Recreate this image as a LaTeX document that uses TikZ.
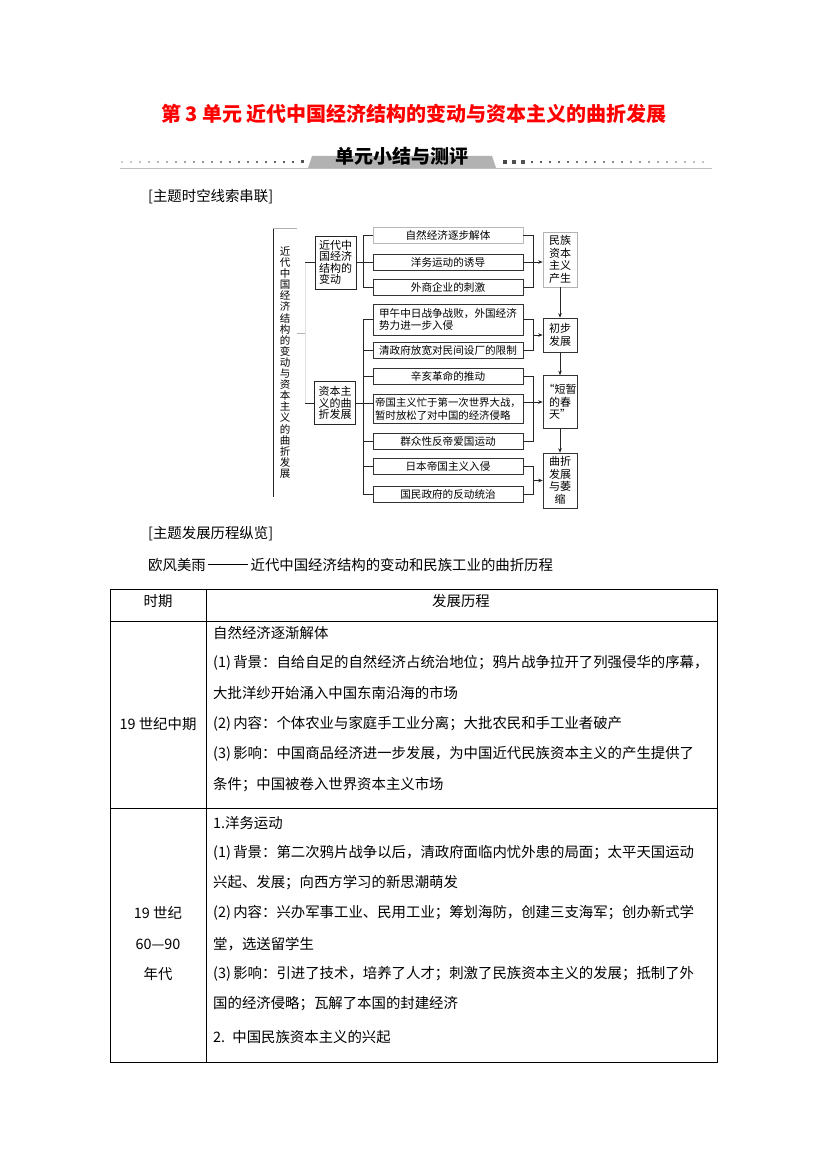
\documentclass[tikz,border=0pt]{standalone}
\usepackage{fontspec}
\setmainfont{Noto Sans CJK SC}
\usetikzlibrary{arrows.meta}
\begin{document}
\begin{tikzpicture}[x=1pt,y=-1pt,
  conn/.style={line width=0.6pt, draw=black!85},
  arr/.style={conn, -{Stealth[length=4.5pt,width=3.5pt]}},
  itembox/.style={draw=black!80, line width=0.6pt, minimum width=150pt, minimum height=16pt, inner sep=0pt, font=\fontsize{10.6}{12.5}\selectfont, align=center},
  sidebox/.style={draw=black!80, line width=0.6pt, minimum width=34pt, inner sep=0pt, font=\fontsize{11}{12.5}\selectfont, align=center},
  groupbox/.style={draw=black!85, line width=0.7pt, minimum width=41pt, inner sep=0pt, font=\fontsize{11}{11.5}\selectfont, align=left},
  body/.style={anchor=west, inner sep=0pt, font=\fontsize{14.4}{17}\selectfont},
  bodyc/.style={body, anchor=center},
  tline/.style={line width=0.8pt, draw=black}
]
\useasboundingbox (0,0) rectangle (826,1169);

% ---------- title ----------
\node[font=\fontsize{20}{24}\selectfont\bfseries, text=red, inner sep=0pt] (title) at (414,114) {第 3 单元 近代中国经济结构的变动与资本主义的曲折发展};

% ---------- banner ----------
\foreach \i in {0,...,20} {
  \pgfmathsetmacro\xx{122+9*\i}
  \pgfmathtruncatemacro\cc{20+2.4*\i}
  \pgfmathsetmacro\ss{0.7+0.04*\i}
  \fill[black!\cc] (\xx-\ss,162-\ss) rectangle (\xx+\ss,162+\ss);
}
\foreach \i in {0,...,22} {
  \pgfmathsetmacro\xx{505+9*\i}
  \pgfmathtruncatemacro\cc{72-2.2*\i}
  \pgfmathsetmacro\ss{1.6-0.04*\i}
  \fill[black!\cc] (\xx-\ss,162-\ss) rectangle (\xx+\ss,162+\ss);
}
\fill[black!30] (308,168) -- (312,156) -- (492,156) -- (496,168) -- cycle;
\draw[black!25, line width=1.6pt] (120,168.5) -- (712,168.5);
\node[font=\fontsize{19}{22}\selectfont\bfseries, inner sep=0pt] (banner) at (402,156) {单元小结与测评};

% ---------- heading 1 ----------
\node[body] (h1) at (148,197) {[主题时空线索串联]};

% ---------- diagram ----------
\node[inner sep=0pt, minimum width=24pt, minimum height=269pt, align=center, font=\fontsize{10.5}{11.1}\selectfont] (t0) at (285,362.5)
 {近\\代\\中\\国\\经\\济\\结\\构\\的\\变\\动\\与\\资\\本\\主\\义\\的\\曲\\折\\发\\展};

\node[groupbox, minimum height=53pt] (n1) at (335.5,262.5) {近代中\\国经济\\结构的\\变动};
\node[groupbox, minimum height=43pt] (n2) at (335,403) {资本主\\义的曲\\折发展};

\node[itembox, draw=gray!55] (i1) at (448,235.5) {自然经济逐步解体};
\node[itembox] (i2) at (448,262) {洋务运动的诱导};
\node[itembox] (i3) at (448,287) {外商企业的刺激};
\node[itembox, minimum height=31pt, align=left] (i4) at (448,319.5) {甲午中日战争战败，外国经济\\势力进一步入侵};
\node[itembox] (i5) at (448,350) {清政府放宽对民间设厂的限制};
\node[itembox] (i6) at (448,376.5) {辛亥革命的推动};
\node[itembox, minimum height=29pt, align=left, font=\fontsize{10.4}{12.5}\selectfont] (i7) at (448,409) {帝国主义忙于第一次世界大战，\\暂时放松了对中国的经济侵略};
\node[itembox] (i8) at (448,441.5) {群众性反帝爱国运动};
\node[itembox] (i9) at (448,466.5) {日本帝国主义入侵};
\node[itembox] (i10) at (448,494.5) {国民政府的反动统治};

\node[sidebox, draw=gray!60, minimum height=55pt] (m1) at (560,259.5) {民族\\资本\\主义\\产生};
\node[sidebox, minimum height=34pt] (m2) at (560,335) {初步\\发展};
\node[sidebox, minimum height=53pt] (m3) at (560,402) {“短暂\\的春\\天”};
\node[sidebox, minimum height=55pt] (m4) at (560,480.5) {曲折\\发展\\与萎\\缩};

\coordinate (bl) at (363,0);
\coordinate (br) at (533.5,0);
\coordinate (bt) at (305,0);
\coordinate (tj) at (297,333);

% title column edges and its connector
\draw[conn] (t0.north west) -- (t0.south west);
\draw[gray!60, line width=0.6pt] (t0.north west) -- (t0.north east);
\draw[gray!60, line width=0.6pt] (tj) -- (tj -| bt);
\draw[gray!22, line width=0.6pt] (n1.west -| bt) -- (n2.west -| bt);
\draw[conn] (n1.west -| bt) -- (n1.west);
\draw[conn] (n2.west -| bt) -- (n2.west);

% group 1
\draw[conn] (n1.east) -- (n1.east -| bl);
\draw[conn] (i1.west -| bl) -- (i3.west -| bl);
\foreach \k in {i1,i2,i3} \draw[conn] (\k.west -| bl) -- (\k.west);
\draw[conn] (i1.east) -- (i1.east -| br) -- (i3.east -| br) -- (i3.east);
\draw[arr] (i2.east) -- (i2.east -| m1.west);

% group 2
\draw[conn] (n2.east) -- (n2.east -| i7.west);
\draw[conn] (i4.west -| bl) -- (i10.west -| bl);
\foreach \k in {i4,i5,i6,i8,i9,i10} \draw[conn] (\k.west -| bl) -- (\k.west);
\draw[conn] (i4.east) -- (i4.east -| br) -- (i5.east -| br) -- (i5.east);
\draw[arr] (m2.west -| br) -- (m2.west);
\draw[conn] (i6.east) -- (i6.east -| br) -- (i8.east -| br) -- (i8.east);
\draw[arr] (m3.west -| i7.east) -- (m3.west);
\draw[conn] (i9.east) -- (i9.east -| br) -- (i10.east -| br) -- (i10.east);
\draw[arr] (m4.west -| br) -- (m4.west);

\draw[arr] (m1.south) -- (m2.north);
\draw[arr] (m2.south) -- (m3.north);
\draw[arr] (m3.south) -- (m4.north);

% ---------- heading 2 ----------
\node[body] (h2) at (148,534) {[主题发展历程纵览]};
\node[body] (h3) at (148,565) {欧风美雨\,\rule[0.36em]{40pt}{0.06em}\,近代中国经济结构的变动和民族工业的曲折历程};

% ---------- table ----------
\draw[tline] (110,589) rectangle (717,1062);
\draw[tline] (206,589) -- (206,1062);
\draw[tline] (110,621) -- (717,621);
\draw[tline] (110,808) -- (717,808);

\node[bodyc] (th1) at (158,601) {时期};
\node[bodyc] (th2) at (461,601) {发展历程};

\node[bodyc] (p1) at (158,724) {19 世纪中期};
\node[body] (a1) at (213,633) {自然经济逐渐解体};
\node[body] (a2) at (213,663) {(1)\,背景：自给自足的自然经济占统治地位；鸦片战争拉开了列强侵华的序幕，};
\node[body] (a3) at (213,693) {大批洋纱开始涌入中国东南沿海的市场};
\node[body] (a4) at (213,724) {(2)\,内容：个体农业与家庭手工业分离；大批农民和手工业者破产};
\node[body] (a5) at (213,754) {(3)\,影响：中国商品经济进一步发展，为中国近代民族资本主义的产生提供了};
\node[body] (a6) at (213,785) {条件；中国被卷入世界资本主义市场};

\node[bodyc] (p2a) at (158,913) {19 世纪};
\node[bodyc] (p2b) at (158,944) {60—90};
\node[bodyc] (p2c) at (158,974) {年代};
\node[body] (b1) at (213,823) {1.洋务运动};
\node[body] (b2) at (213,853) {(1)\,背景：第二次鸦片战争以后，清政府面临内忧外患的局面；太平天国运动};
\node[body] (b3) at (213,883) {兴起、发展；向西方学习的新思潮萌发};
\node[body] (b4) at (213,913) {(2)\,内容：兴办军事工业、民用工业；筹划海防，创建三支海军；创办新式学};
\node[body] (b5) at (213,944) {堂，选送留学生};
\node[body] (b6) at (213,974) {(3)\,影响：引进了技术，培养了人才；刺激了民族资本主义的发展；抵制了外};
\node[body] (b7) at (213,1004) {国的经济侵略；瓦解了本国的封建经济};
\node[body] (b8) at (213,1037) {2.\enspace 中国民族资本主义的兴起};
\end{tikzpicture}
\end{document}
